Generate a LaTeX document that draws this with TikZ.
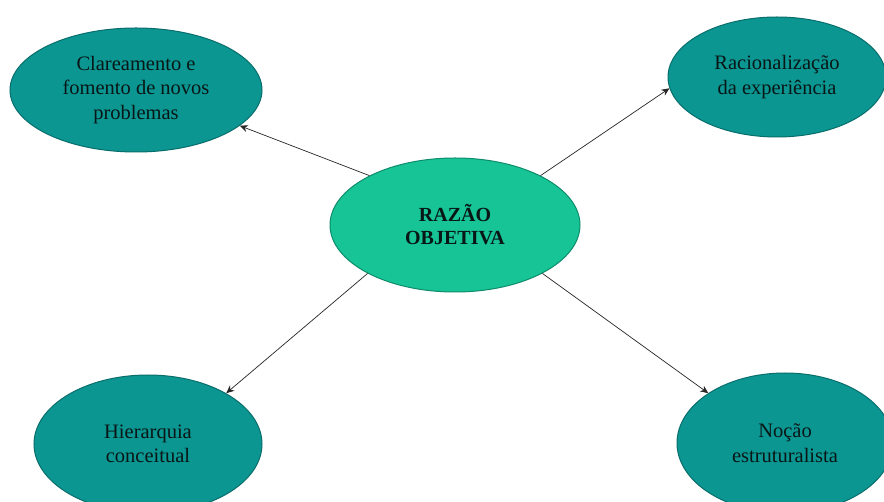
\documentclass[tikz,border=0pt]{standalone}
\usepackage{fontspec}
\setmainfont{Liberation Serif}
\usetikzlibrary{shapes.geometric,arrows.meta}
\definecolor{outerfill}{RGB}{12,150,146}
\definecolor{outerline}{RGB}{8,110,108}
\definecolor{centerfill}{RGB}{22,196,150}
\definecolor{centerline}{RGB}{14,140,108}
\definecolor{txt}{RGB}{8,22,22}
\tikzset{
  outer/.style={ellipse, fill=outerfill, draw=outerline, line width=1pt, inner sep=0pt,
    align=center, text=txt, font=\fontsize{20.5}{24.5}\selectfont},
  hub/.style={ellipse, fill=centerfill, draw=centerline, line width=1pt, inner sep=0pt,
    align=center, text=txt, font=\fontsize{20}{23}\selectfont\bfseries},
  link/.style={draw=black!85, line width=0.7pt, -{Stealth[length=8pt,width=7pt]}}
}
\begin{document}
\begin{tikzpicture}[x=1pt,y=-1pt]
\useasboundingbox (0,0) rectangle (884,502);
\clip (0,0) rectangle (884,502);
\fill[white] (0,0) rectangle (884,502);
\node[hub, minimum width=250pt, minimum height=134pt] (c) at (455,225) {RAZÃO\\OBJETIVA};
\node[outer, minimum width=252pt, minimum height=124pt] (tl) at (136,90) {Clareamento e\\fomento de novos\\problemas};
\node[outer, minimum width=218pt, minimum height=120pt] (tr) at (777,77) {Racionalização\\da experiência};
\node[outer, minimum width=228pt, minimum height=138pt] (bl) at (148,444) {Hierarquia\\conceitual};
\node[outer, minimum width=216pt, minimum height=140pt] (br) at (785,443) {Noção\\estruturalista};
\draw[link] (c.150.5) -- (tl.341);
\draw[link] (c.30) -- (tr.186);
\draw[link] (c.209) -- (bl.33);
\draw[link] (c.331) -- (br.147);
\end{tikzpicture}
\end{document}
